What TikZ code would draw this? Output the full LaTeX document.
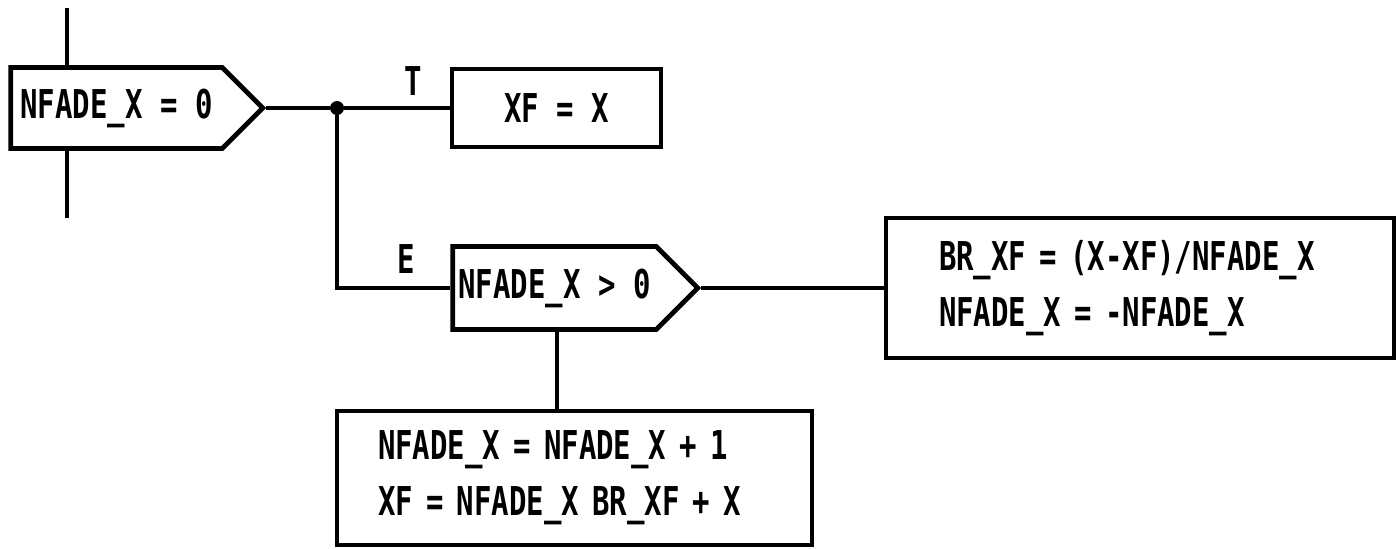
\documentclass[tikz,border=0pt]{standalone}
\usepackage{fontspec}
\newfontfamily\leroy[FakeStretch=0.73]{DejaVu Sans Mono Bold}
\usetikzlibrary{positioning,shapes.symbols}

\begin{document}
\begin{tikzpicture}[font=\leroy\fontsize{22.6}{32}\selectfont,
  dec/.style={draw, line width=2.8pt, signal, signal to=east, signal pointer angle=90, inner sep=0pt},
  stmt/.style={draw, line width=2.8pt, rectangle, inner ysep=0pt},
  wire/.style={line width=2pt}]
  \useasboundingbox (0,0) rectangle (27.94,-10.96);
  % first test, entered from above
  \node[dec, minimum width=5.04cm, minimum height=1.62cm] (d1) at (2.33,-2.16) {NFADE\_X = 0};
  \coordinate (top) at (1.34,-0.16);
  \coordinate (bot) at (1.34,-4.36);
  \draw[wire] (top) -- (top |- d1.north);
  \draw[wire] (d1.south -| bot) -- (bot);
  \node[circle, fill, inner sep=0pt, minimum size=0.28cm] (j) at (6.74,-2.16) {};
  % then branch
  \node[stmt, minimum width=4.18cm, minimum height=1.56cm] (bT) at (11.13,-2.16) {XF = X};
  \node (lT) at (8.26,-1.62) {T};
  % else branch
  \node[dec, minimum width=4.9cm, minimum height=1.66cm] (d2) at (11.09,-5.76) {NFADE\_X > 0};
  \node (lE) at (8.12,-5.18) {E};
  \node[stmt, align=left, text width=8.04cm, inner xsep=1.06cm, minimum height=2.8cm] (b3) at (22.8,-5.76)
    {BR\_XF = (X-XF)/NFADE\_X\\NFADE\_X = -NFADE\_X};
  \node[stmt, align=left, text width=7.86cm, inner xsep=0.82cm, minimum height=2.68cm] (b4) at (11.49,-9.56)
    {NFADE\_X = NFADE\_X + 1\\XF = NFADE\_X BR\_XF + X};
  \coordinate (d2b) at (11.14,-5.76);
  \draw[wire] (d1.east) -- (j);
  \draw[wire] (j) -- (bT.west);
  \draw[wire] (j) |- (d2.west);
  \draw[wire] (d2.east) -- (b3.west);
  \draw[wire] (d2b |- d2.south) -- (d2b |- b4.north);
\end{tikzpicture}
\end{document}
